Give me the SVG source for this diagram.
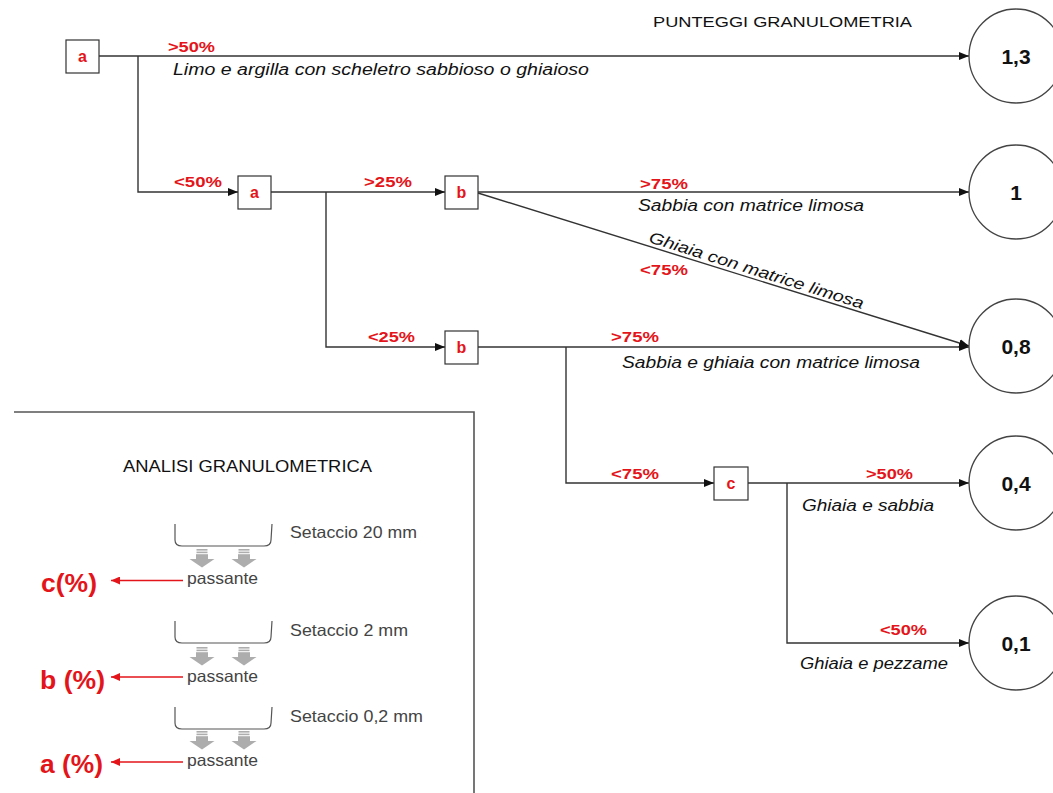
<svg xmlns="http://www.w3.org/2000/svg" width="1053" height="793" viewBox="0 0 1053 793">
  <style>
    .ln { stroke: #333; stroke-width: 1.4; fill: none; }
    .box { fill: #fff; stroke: #333; stroke-width: 1.2; }
    .end { fill: #fff; stroke: #444; stroke-width: 1.3; }
    .key { font-family: "Liberation Sans", Arial, sans-serif; font-size: 16px; font-weight: bold; fill: #e3151a; text-anchor: middle; }
    .pct { font-family: "Liberation Sans", Arial, sans-serif; font-size: 15px; font-weight: bold; fill: #e3151a; }
    .desc { font-family: "Liberation Sans", Arial, sans-serif; font-size: 16px; font-style: italic; fill: #111; }
    .score { font-family: "Liberation Sans", Arial, sans-serif; font-size: 21px; font-weight: bold; fill: #111; text-anchor: middle; }
    .title { font-family: "Liberation Sans", Arial, sans-serif; font-size: 15px; fill: #111; }
    .sieve { stroke: #555; stroke-width: 1.2; fill: none; }
    .lab { font-family: "Liberation Sans", Arial, sans-serif; font-size: 16.5px; fill: #444; }
    .frac { font-family: "Liberation Sans", Arial, sans-serif; font-size: 25px; font-weight: bold; fill: #e3151a; }
    .red { stroke: #e3151a; stroke-width: 1.3; fill: none; }
    .flow { fill: #adadad; }
  </style>
  <defs>
    <marker id="ah" markerUnits="userSpaceOnUse" markerWidth="11" markerHeight="8" refX="10" refY="4" orient="auto">
      <path d="M0,0 L10,4 L0,8 z" fill="#111"/>
    </marker>
    <marker id="ahr" markerUnits="userSpaceOnUse" markerWidth="10" markerHeight="8" refX="9" refY="4" orient="auto">
      <path d="M0,0 L9,4 L0,8 z" fill="#e3151a"/>
    </marker>
    <!-- striped down arrow under each sieve -->
    <g id="drip">
      <rect x="-5.5" y="0" width="11" height="1.6" class="flow"/>
      <rect x="-5.5" y="2.6" width="11" height="1.6" class="flow"/>
      <rect x="-6" y="5.2" width="12" height="5" class="flow"/>
      <path d="M-12.5,10 L12.5,10 L0,18.5 z" class="flow"/>
    </g>
    <path id="pan" d="M0,0 L0,16 Q0,22 7,22 L89,22 Q96,22 96,16 L97,0"/>
  </defs>

  <text class="title" x="653" y="27" textLength="259" lengthAdjust="spacingAndGlyphs">PUNTEGGI GRANULOMETRIA</text>

  <!-- connectors -->
  <g id="connectors">
    <path class="ln" d="M99,56 L969,56" marker-end="url(#ah)"/>
    <path class="ln" d="M138,56 L138,192 L238,192" marker-end="url(#ah)"/>
    <path class="ln" d="M271,192 L445,192" marker-end="url(#ah)"/>
    <path class="ln" d="M326,192 L326,347 L445,347" marker-end="url(#ah)"/>
    <path class="ln" d="M478,192 L969,192" marker-end="url(#ah)"/>
    <path class="ln" d="M478,193 L969,346" marker-end="url(#ah)"/>
    <path class="ln" d="M478,347 L969,347" marker-end="url(#ah)"/>
    <path class="ln" d="M566,347 L566,483 L714,483" marker-end="url(#ah)"/>
    <path class="ln" d="M748,483 L969,483" marker-end="url(#ah)"/>
    <path class="ln" d="M787,483 L787,643 L969,643" marker-end="url(#ah)"/>
  </g>

  <!-- branch labels -->
  <g id="labels">
    <text class="pct" x="168" y="52" textLength="47" lengthAdjust="spacingAndGlyphs">&gt;50%</text>
    <text class="desc" x="173" y="75" textLength="416" lengthAdjust="spacingAndGlyphs">Limo e argilla con scheletro sabbioso o ghiaioso</text>
    <text class="pct" x="174" y="187" textLength="48" lengthAdjust="spacingAndGlyphs">&lt;50%</text>
    <text class="pct" x="364" y="187" textLength="48" lengthAdjust="spacingAndGlyphs">&gt;25%</text>
    <text class="pct" x="640" y="189" textLength="48" lengthAdjust="spacingAndGlyphs">&gt;75%</text>
    <text class="desc" x="638" y="211" textLength="226" lengthAdjust="spacingAndGlyphs">Sabbia con matrice limosa</text>
    <text class="desc" transform="translate(648,242) rotate(17.4)" textLength="224" lengthAdjust="spacingAndGlyphs">Ghiaia con matrice limosa</text>
    <text class="pct" x="640" y="275" textLength="48" lengthAdjust="spacingAndGlyphs">&lt;75%</text>
    <text class="pct" x="368" y="342" textLength="47" lengthAdjust="spacingAndGlyphs">&lt;25%</text>
    <text class="pct" x="611" y="342" textLength="48" lengthAdjust="spacingAndGlyphs">&gt;75%</text>
    <text class="desc" x="622" y="368" textLength="298" lengthAdjust="spacingAndGlyphs">Sabbia e ghiaia con matrice limosa</text>
    <text class="pct" x="611" y="479" textLength="48" lengthAdjust="spacingAndGlyphs">&lt;75%</text>
    <text class="pct" x="866" y="479" textLength="47" lengthAdjust="spacingAndGlyphs">&gt;50%</text>
    <text class="desc" x="802" y="511" textLength="132" lengthAdjust="spacingAndGlyphs">Ghiaia e sabbia</text>
    <text class="pct" x="880" y="635" textLength="47" lengthAdjust="spacingAndGlyphs">&lt;50%</text>
    <text class="desc" x="800" y="669" textLength="148" lengthAdjust="spacingAndGlyphs">Ghiaia e pezzame</text>
  </g>

  <!-- decision nodes -->
  <g id="node-a1"><rect class="box" x="66" y="40" width="33" height="33"/><text class="key" x="82.5" y="62">a</text></g>
  <g id="node-a2"><rect class="box" x="238" y="176" width="33" height="33"/><text class="key" x="254.5" y="198">a</text></g>
  <g id="node-b1"><rect class="box" x="445" y="176" width="33" height="33"/><text class="key" x="461.5" y="198">b</text></g>
  <g id="node-b2"><rect class="box" x="445" y="331" width="33" height="33"/><text class="key" x="461.5" y="353">b</text></g>
  <g id="node-c"><rect class="box" x="714" y="467" width="34" height="33"/><text class="key" x="731" y="489">c</text></g>

  <!-- score nodes -->
  <g id="score-13"><circle class="end" cx="1016" cy="56" r="47"/><text class="score" x="1016" y="64">1,3</text></g>
  <g id="score-1"><circle class="end" cx="1016" cy="192" r="47"/><text class="score" x="1016" y="200">1</text></g>
  <g id="score-08"><circle class="end" cx="1016" cy="346" r="47"/><text class="score" x="1016" y="354">0,8</text></g>
  <g id="score-04"><circle class="end" cx="1016" cy="483" r="47"/><text class="score" x="1016" y="491">0,4</text></g>
  <g id="score-01"><circle class="end" cx="1016" cy="643" r="47"/><text class="score" x="1016" y="651">0,1</text></g>

  <!-- sieve analysis panel -->
  <g id="panel">
    <path d="M14,412 L474,412 L474,793" stroke="#555" stroke-width="1.6" fill="none"/>
    <text class="title" x="123" y="472" textLength="249" lengthAdjust="spacingAndGlyphs" style="font-size:16px">ANALISI GRANULOMETRICA</text>

    <use href="#pan" class="sieve" x="175" y="524"/>
    <text class="lab" x="290" y="538" textLength="127" lengthAdjust="spacingAndGlyphs">Setaccio 20 mm</text>
    <use href="#drip" x="202" y="549"/>
    <use href="#drip" x="244" y="549"/>
    <text class="lab" x="187" y="584" textLength="71" lengthAdjust="spacingAndGlyphs">passante</text>
    <path class="red" d="M183,580.5 L111,580.5" marker-end="url(#ahr)"/>
    <text class="frac" x="41" y="592" textLength="56" lengthAdjust="spacingAndGlyphs">c(%)</text>

    <use href="#pan" class="sieve" x="175" y="621"/>
    <text class="lab" x="290" y="636" textLength="118" lengthAdjust="spacingAndGlyphs">Setaccio 2 mm</text>
    <use href="#drip" x="202" y="647"/>
    <use href="#drip" x="244" y="647"/>
    <text class="lab" x="187" y="682" textLength="71" lengthAdjust="spacingAndGlyphs">passante</text>
    <path class="red" d="M183,677 L111,677" marker-end="url(#ahr)"/>
    <text class="frac" x="40" y="689" textLength="65" lengthAdjust="spacingAndGlyphs">b (%)</text>

    <use href="#pan" class="sieve" x="175" y="707"/>
    <text class="lab" x="290" y="722" textLength="133" lengthAdjust="spacingAndGlyphs">Setaccio 0,2 mm</text>
    <use href="#drip" x="202" y="731"/>
    <use href="#drip" x="244" y="731"/>
    <text class="lab" x="187" y="766" textLength="71" lengthAdjust="spacingAndGlyphs">passante</text>
    <path class="red" d="M183,762 L111,762" marker-end="url(#ahr)"/>
    <text class="frac" x="40" y="773" textLength="63" lengthAdjust="spacingAndGlyphs">a (%)</text>
  </g>
</svg>
